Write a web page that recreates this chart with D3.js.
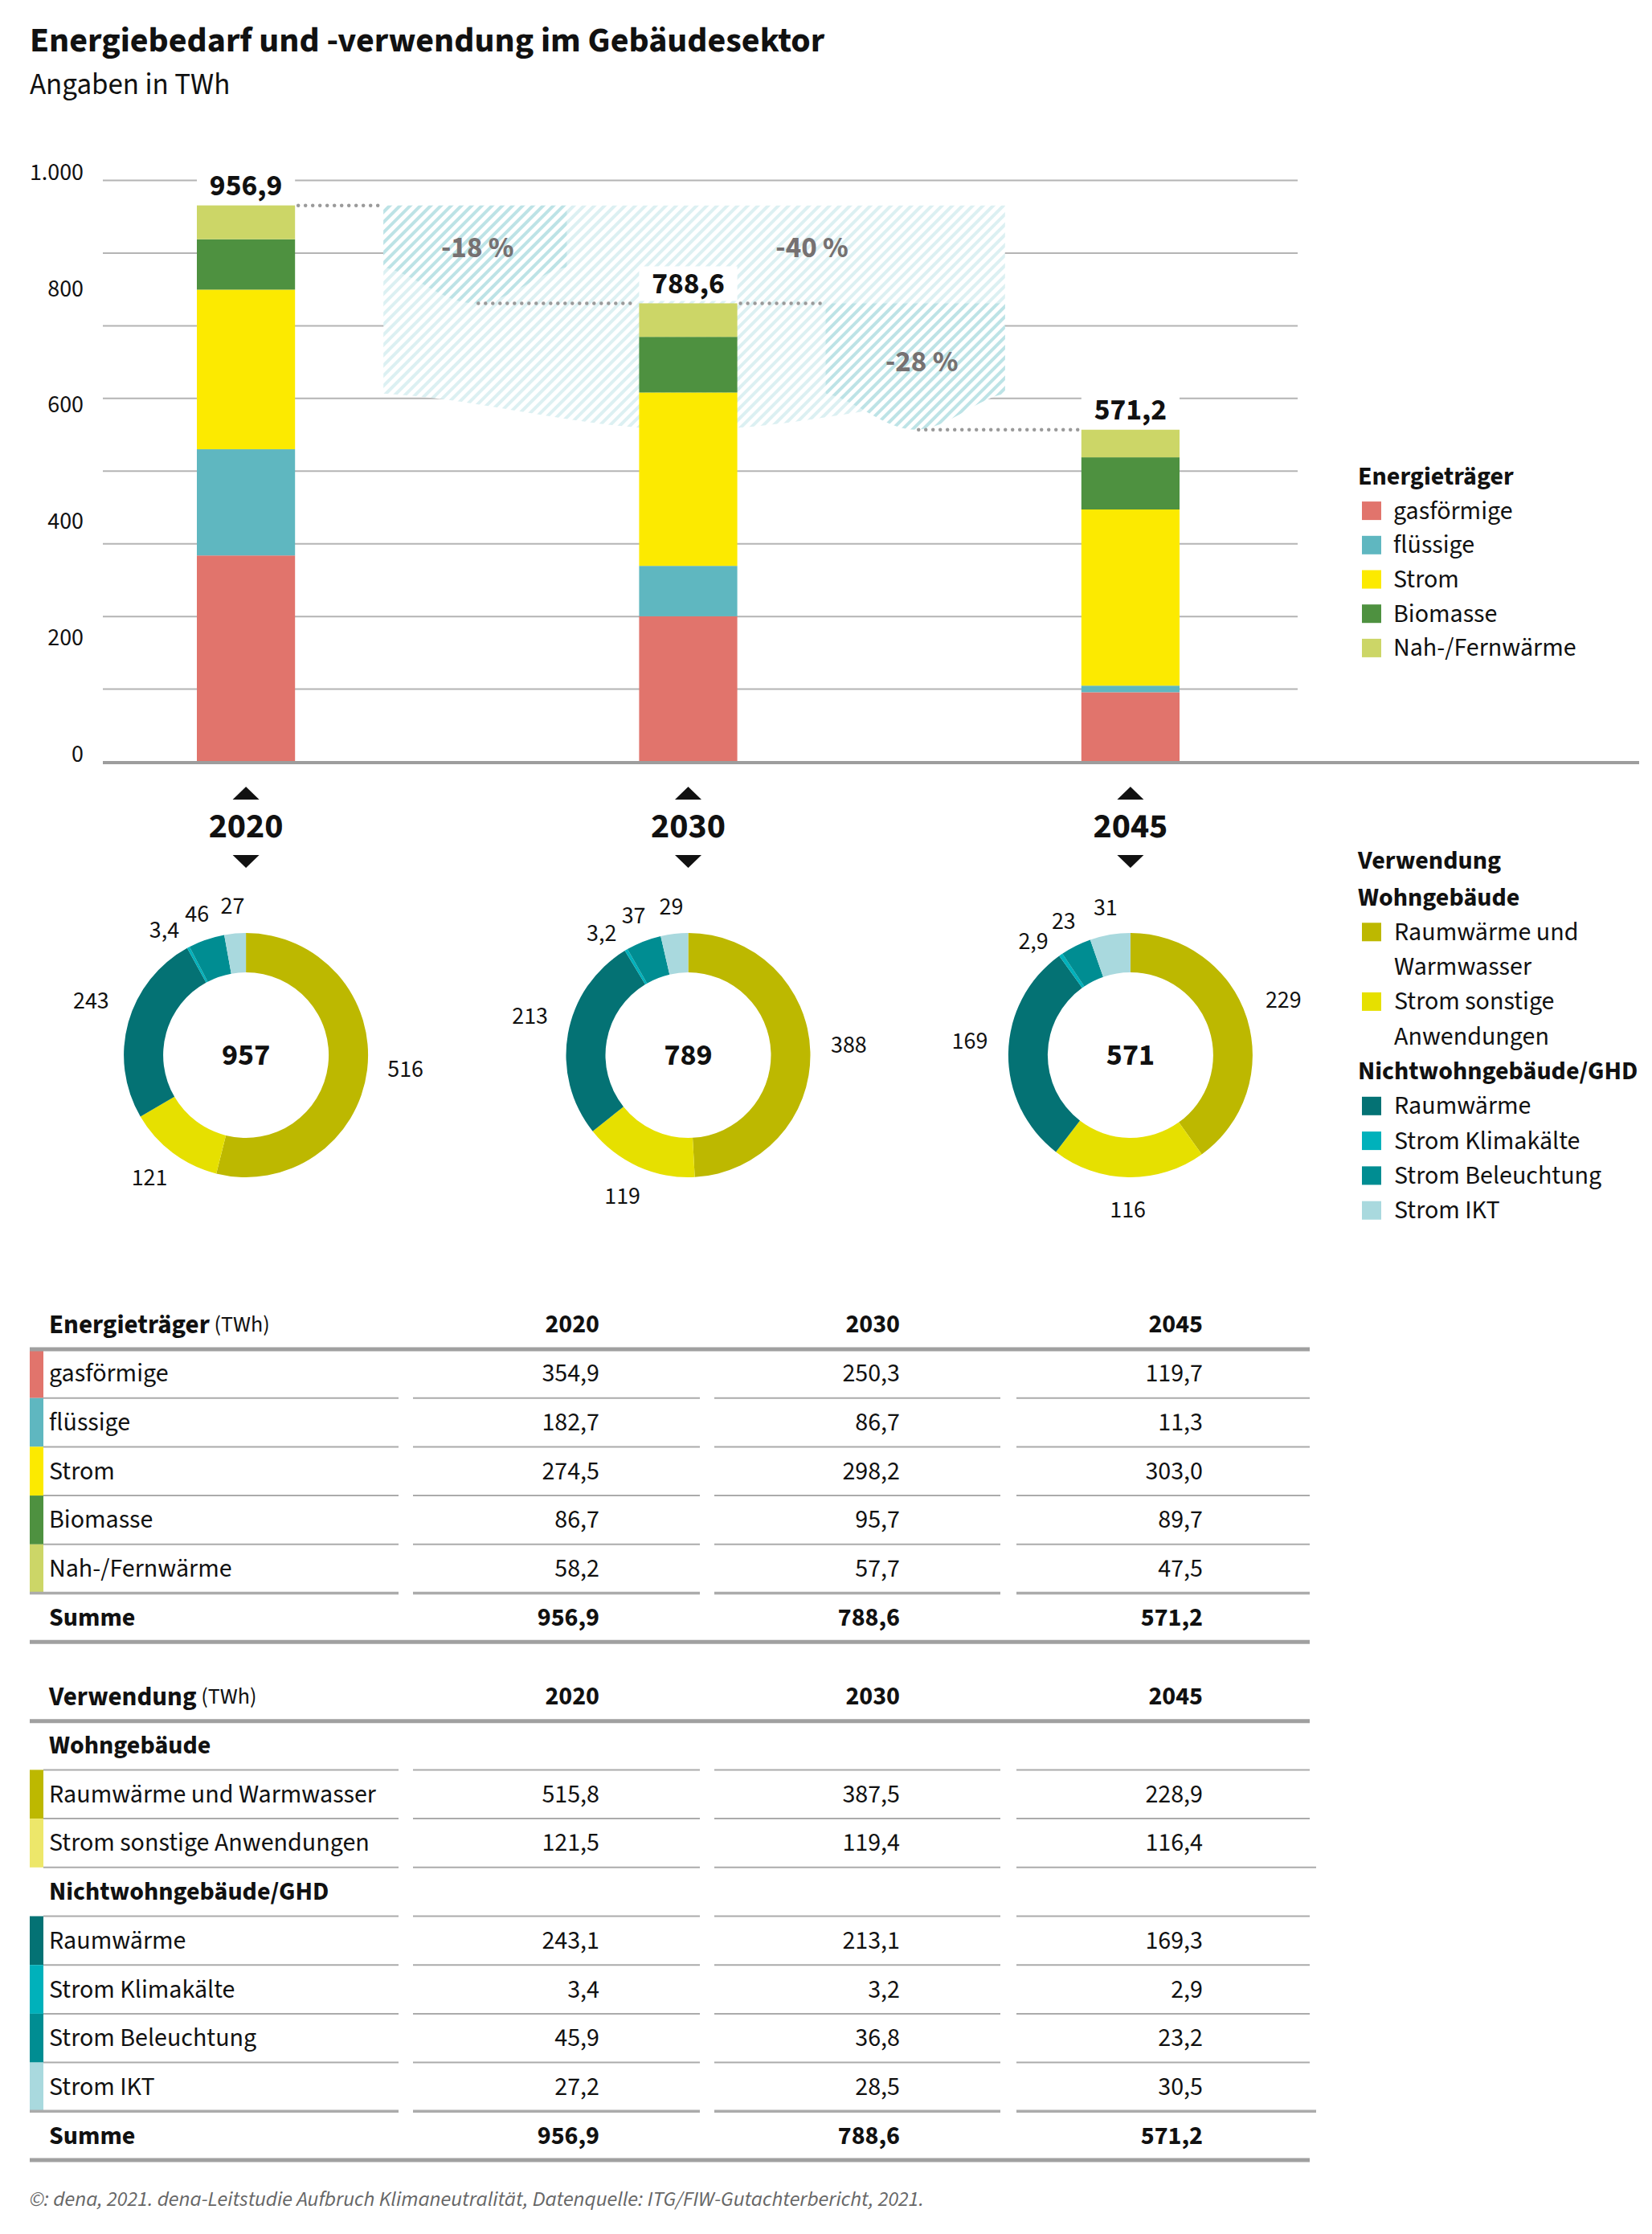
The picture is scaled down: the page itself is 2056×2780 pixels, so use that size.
<!DOCTYPE html>
<html><head><meta charset="utf-8">
<script src="https://cdn.jsdelivr.net/npm/d3@7"></script>
<style>body{margin:0;background:#fff} text{font-family:"Source Sans Pro","Source Sans 3",Lato,sans-serif;fill:#111}</style>
</head><body><svg id="c" width="2056" height="2780"></svg>
<script>
// ---------- data ----------
const years = ["2020", "2030", "2045"];
const carrierNames = ["gasförmige", "flüssige", "Strom", "Biomasse", "Nah-/Fernwärme"];
const carrierColors = ["#e1746c", "#5fb7c0", "#fcea00", "#4e9140", "#ccd667"];
const gasfoermige = [354.9, 250.3, 119.7];
const fluessige = [182.7, 86.7, 11.3];
const strom = [274.5, 298.2, 303.0];
const biomasse = [86.7, 95.7, 89.7];
const fernwaerme = [58.2, 57.7, 47.5];
const totals = [956.9, 788.6, 571.2];

const usageNames = ["Raumwärme und Warmwasser", "Strom sonstige Anwendungen", "Raumwärme", "Strom Klimakälte", "Strom Beleuchtung", "Strom IKT"];
const usageColors = ["#bdb800", "#e6e000", "#047274", "#00b1bb", "#008d92", "#a9d9de"];
const usageTableColors = ["#bdb800", "#ede76a", "#047274", "#00b1bb", "#008d92", "#a9d9de"];
const rwWW = [515.8, 387.5, 228.9];
const stromSonstige = [121.5, 119.4, 116.4];
const rwNWG = [243.1, 213.1, 169.3];
const klimakaelte = [3.4, 3.2, 2.9];
const beleuchtung = [45.9, 36.8, 23.2];
const ikt = [27.2, 28.5, 30.5];

// donut labels as printed (rounded in the source)
const donutLabels2020 = ["516", "121", "243", "3,4", "46", "27"];
const donutLabels2030 = ["388", "119", "213", "3,2", "37", "29"];
const donutLabels2045 = ["229", "116", "169", "2,9", "23", "31"];
const donutCenterLabels = ["957", "789", "571"];

const yTickValues = [0, 200, 400, 600, 800, 1000];
const gridValues = [0, 125, 250, 375, 500, 625, 750, 875, 1000];

const carrierSeries = [gasfoermige, fluessige, strom, biomasse, fernwaerme];
const usageSeries = [rwWW, stromSonstige, rwNWG, klimakaelte, beleuchtung, ikt];
const donutLabels = [donutLabels2020, donutLabels2030, donutLabels2045];

// ---------- helpers ----------
const fmt1 = v => d3.format(".1f")(v).replace(".", ",");
const fmtTick = v => d3.format(",")(v).replace(/,/g, ".");

const svg = d3.select("#c");
svg.append("rect").attr("width", 2056).attr("height", 2780).attr("fill", "#fff");

// title
svg.append("text").attr("x", 37).attr("y", 64).attr("font-size", 44).attr("font-weight", 700).text("Energiebedarf und -verwendung im Gebäudesektor");
svg.append("text").attr("x", 37).attr("y", 117).attr("font-size", 37).text("Angaben in TWh");

// ---------- scales ----------
const x = d3.scaleBand().domain(years).range([245, 1468]).paddingInner(0.778).paddingOuter(0);
const bw = x.bandwidth();
const cx = yr => x(yr) + bw / 2;
const y = d3.scaleLinear().domain([0, 1000]).range([948, 224.5]);

// patterns
const defs = svg.append("defs");
function pattern(id, color) {
  const p = defs.append("pattern").attr("id", id).attr("patternUnits", "userSpaceOnUse")
    .attr("width", 9).attr("height", 9).attr("patternTransform", "rotate(45)");
  p.append("rect").attr("width", 9).attr("height", 9).attr("fill", "#fff");
  p.append("rect").attr("width", 4).attr("height", 9).attr("fill", color);
}
pattern("hatchLight", "#dcf0f2");
pattern("hatchDark", "#bde3e6");

// gridlines
svg.append("g").selectAll("line").data(gridValues.filter(v => v > 0)).join("line")
  .attr("x1", 128).attr("x2", 1615).attr("y1", d => y(d)).attr("y2", d => y(d))
  .attr("stroke", "#b4b4b4").attr("stroke-width", 2);

// y axis labels
svg.append("g").selectAll("text").data(yTickValues).join("text")
  .attr("x", 104).attr("y", d => y(d) - 10).attr("text-anchor", "end")
  .attr("dominant-baseline", "central").attr("font-size", 30).text(fmtTick);

// ---------- reduction arrows ----------
const pct = (a, b) => Math.round((b / a - 1) * 100) + " %";
function arrowPath(x0, x1, top, tipX, tipY) {
  const side = tipY - 45;
  return `M${x0},${top}L${x1},${top}L${x1},${side}` +
    `C${x1 - (x1 - tipX) * 0.35},${side + 8} ${tipX + (x1 - tipX) * 0.35},${tipY} ${tipX},${tipY}` +
    `C${tipX - (tipX - x0) * 0.35},${tipY} ${x0 + (tipX - x0) * 0.35},${side + 8} ${x0},${side}Z`;
}
const gapL = 110, gapR = 95;
const aX0 = x("2020") + bw + gapL, aX1 = x("2030") - gapR + 5;
const cX0 = x("2030") + bw + gapL, cX1 = x("2045") - gapR;
const arrows = [
  { x0: aX0, x1: cX1, top: y(totals[0]), tipX: cx("2030"), tipY: y(totals[2]), fill: "url(#hatchLight)" },
  { x0: aX0, x1: aX1, top: y(totals[0]), tipX: (aX0 + aX1) / 2, tipY: y(totals[1]), fill: "url(#hatchDark)" },
  { x0: cX0, x1: cX1, top: y(totals[1]), tipX: (cX0 + cX1) / 2, tipY: y(totals[2]), fill: "url(#hatchDark)" }
];
svg.append("g").selectAll("path").data(arrows).join("path")
  .attr("d", d => arrowPath(d.x0, d.x1, d.top, d.tipX, d.tipY)).attr("fill", d => d.fill);

// dotted connectors
const dots = [
  [x("2020") + bw, aX0, totals[0]],
  [arrows[1].tipX, x("2030"), totals[1]],
  [x("2030") + bw, cX0, totals[1]],
  [arrows[2].tipX, x("2045"), totals[2]]
];
svg.append("g").selectAll("line").data(dots).join("line")
  .attr("x1", d => d[0] + 4).attr("x2", d => d[1] - 4).attr("y1", d => y(d[2])).attr("y2", d => y(d[2]))
  .attr("stroke", "#9a9a9a").attr("stroke-width", 4.5).attr("stroke-linecap", "round").attr("stroke-dasharray", "0 9");

// percent labels
const pctLabels = [
  { t: pct(totals[0], totals[1]), x: (aX0 + aX1) / 2 + 3, y: y(totals[0]) + 53 },
  { t: pct(totals[0], totals[2]), x: x("2030") + bw + 93, y: y(totals[0]) + 53 },
  { t: pct(totals[1], totals[2]), x: (cX0 + cX1) / 2 + 8, y: y(totals[1]) + 73 }
];
svg.append("g").selectAll("text").data(pctLabels).join("text")
  .attr("x", d => d.x).attr("y", d => d.y).attr("text-anchor", "middle").attr("dominant-baseline", "central")
  .attr("font-size", 37).attr("font-weight", 700).style("fill", "#767171").text(d => d.t);

// ---------- stacked bars ----------
const table = years.map((yr, i) => { const o = { year: yr }; carrierNames.forEach((k, j) => o[k] = carrierSeries[j][i]); return o; });
const stack = d3.stack().keys(carrierNames)(table);
svg.append("g").selectAll("g").data(stack).join("g").attr("fill", (d, i) => carrierColors[i])
  .selectAll("rect").data(d => d).join("rect")
  .attr("x", d => x(d.data.year)).attr("width", bw)
  .attr("y", d => y(d[1])).attr("height", d => y(d[0]) - y(d[1]));

// total labels
const tl = svg.append("g").selectAll("g").data(years).join("g");
tl.append("rect").attr("x", d => x(d)).attr("width", bw).attr("y", (d, i) => y(totals[i]) - 46).attr("height", 43).attr("fill", "#fff");
tl.append("text").attr("x", d => cx(d)).attr("y", (d, i) => y(totals[i]) - 24).attr("text-anchor", "middle")
  .attr("dominant-baseline", "central").attr("font-size", 37.5).attr("font-weight", 700).text((d, i) => fmt1(totals[i]));

// baseline
svg.append("line").attr("x1", 128).attr("x2", 2040).attr("y1", y(0) + 1).attr("y2", y(0) + 1).attr("stroke", "#9d9d9d").attr("stroke-width", 4);

// years with triangles
const yl = svg.append("g").selectAll("g").data(years).join("g");
yl.append("path").attr("d", d => `M${cx(d)},979L${cx(d) + 16.5},995L${cx(d) - 16.5},995Z`).attr("fill", "#111");
yl.append("path").attr("d", d => `M${cx(d) - 16.5},1064L${cx(d) + 16.5},1064L${cx(d)},1080Z`).attr("fill", "#111");
yl.append("text").attr("x", d => cx(d)).attr("y", 1028).attr("text-anchor", "middle").attr("dominant-baseline", "central")
  .attr("font-size", 44).attr("font-weight", 700).text(d => d);

// ---------- donuts ----------
const cyD = 1313;
const pie = d3.pie().sort(null).value(d => d);
const arc = d3.arc().innerRadius(103).outerRadius(152);
years.forEach((yr, i) => {
  const vals = usageSeries.map(s => s[i]);
  const arcs = pie(vals);
  const g = svg.append("g").attr("transform", `translate(${cx(yr)},${cyD})`);
  g.selectAll("path").data(arcs).join("path").attr("d", arc).attr("fill", (d, j) => usageColors[j]);
  const ang = arcs.map(a => (a.startAngle + a.endAngle) / 2);
  const sep = 14 * Math.PI / 180;
  ang[4] = Math.min(ang[4], ang[5] - sep);
  ang[3] = Math.min(ang[3], ang[4] - sep);
  g.selectAll("text.l").data(arcs).join("text").attr("class", "l")
    .attr("x", (d, j) => (j >= 3 ? 186 : 200) * Math.sin(ang[j]))
    .attr("y", (d, j) => -(j >= 3 ? 186 : 200) * Math.cos(ang[j]) + (j >= 3 ? 0 : (j === 2 ? -14 : -7)))
    .attr("text-anchor", "middle").attr("dominant-baseline", "central").attr("font-size", 30)
    .text((d, j) => donutLabels[i][j]);
  g.append("text").attr("text-anchor", "middle").attr("dominant-baseline", "central").attr("font-size", 38)
    .attr("font-weight", 700).text(donutCenterLabels[i]);
});

// ---------- legends ----------
const LX = 1690, SX = 1695, TX = 1734, LFS = 32;
const lg1 = svg.append("g");
lg1.append("text").attr("x", LX).attr("y", 593).attr("dominant-baseline", "central").attr("font-size", LFS).attr("font-weight", 700).text("Energieträger");
carrierNames.forEach((n, i) => {
  const yy = 635.6 + 42.7 * i;
  lg1.append("rect").attr("x", SX).attr("y", yy - 11.5).attr("width", 24).attr("height", 23).attr("fill", carrierColors[i]);
  lg1.append("text").attr("x", TX).attr("y", yy).attr("dominant-baseline", "central").attr("font-size", LFS).text(n);
});

const legend2 = [
  { t: "Wohngebäude", bold: true },
  { t: "Raumwärme und", c: 0 }, { t: "Warmwasser" },
  { t: "Strom sonstige", c: 1 }, { t: "Anwendungen" },
  { t: "Nichtwohngebäude/GHD", bold: true },
  { t: "Raumwärme", c: 2 }, { t: "Strom Klimakälte", c: 3 }, { t: "Strom Beleuchtung", c: 4 }, { t: "Strom IKT", c: 5 }
];
const lg2 = svg.append("g");
lg2.append("text").attr("x", LX).attr("y", 1071).attr("dominant-baseline", "central").attr("font-size", LFS).attr("font-weight", 700).text("Verwendung");
legend2.forEach((e, k) => {
  const yy = 1116.5 + 43.3 * k;
  if (e.bold) {
    lg2.append("text").attr("x", LX).attr("y", yy).attr("dominant-baseline", "central").attr("font-size", LFS).attr("font-weight", 700).text(e.t);
  } else {
    if (e.c !== undefined) lg2.append("rect").attr("x", SX).attr("y", yy - 11.5).attr("width", 24).attr("height", 23).attr("fill", usageColors[e.c]);
    lg2.append("text").attr("x", TX + 1).attr("y", yy).attr("dominant-baseline", "central").attr("font-size", LFS).text(e.t);
  }
});

// ---------- tables ----------
const colX = [746, 1120, 1497];
const segs = [[54, 496], [514, 871], [889, 1245], [1265, 1630]];
const rowH = 60.7;
const FS = 32;

function header(g, yC, bold, light) {
  const t = g.append("text").attr("x", 61).attr("y", yC).attr("dominant-baseline", "central").attr("font-size", 33);
  t.append("tspan").attr("font-weight", 700).text(bold);
  t.append("tspan").attr("font-size", 28).text(light);
  g.selectAll(null).data(years).join("text").attr("x", (d, i) => colX[i]).attr("y", yC).attr("text-anchor", "end")
    .attr("dominant-baseline", "central").attr("font-size", FS).attr("font-weight", 700).text(d => d);
}
function thick(g, yy) {
  g.append("line").attr("x1", 37).attr("x2", 1630).attr("y1", yy).attr("y2", yy).attr("stroke", "#a0a0a0").attr("stroke-width", 5);
}
function rowLine(g, yy, startX, w, endX) {
  segs.forEach((s, i) => {
    const a = i === 0 ? startX : s[0];
    const b = i === 3 ? (endX || s[1]) : s[1];
    g.append("line").attr("x1", a).attr("x2", b).attr("y1", yy).attr("y2", yy).attr("stroke", "#ababab").attr("stroke-width", w);
  });
}
function dataRow(g, yTop, label, vals, color, bold) {
  const yC = yTop + rowH / 2;
  if (color) g.append("rect").attr("x", 37).attr("y", yTop).attr("width", 17).attr("height", rowH).attr("fill", color);
  g.append("text").attr("x", 61).attr("y", yC).attr("dominant-baseline", "central").attr("font-size", FS)
    .attr("font-weight", bold ? 700 : 400).text(label);
  if (vals) g.selectAll(null).data(vals).join("text").attr("x", (d, i) => colX[i]).attr("y", yC).attr("text-anchor", "end")
    .attr("dominant-baseline", "central").attr("font-size", FS).attr("font-weight", bold ? 700 : 400).text(fmt1);
}

// table 1
const t1 = svg.append("g");
header(t1, 1648, "Energieträger", " (TWh)");
const top1 = 1679;
carrierNames.forEach((n, i) => {
  dataRow(t1, top1 + rowH * i, n, carrierSeries[i], carrierColors[i]);
  if (i < 4) rowLine(t1, top1 + rowH * (i + 1), 54, 2);
});
rowLine(t1, top1 + rowH * 5, 37, 3.5);
dataRow(t1, top1 + rowH * 5, "Summe", totals, null, true);
thick(t1, top1);
thick(t1, top1 + rowH * 6);

// table 2
const t2 = svg.append("g");
header(t2, 2110.5, "Verwendung", " (TWh)");
const top2 = 2141.7;
const rows2 = [
  { t: "Wohngebäude", group: true },
  { t: usageNames[0], k: 0 }, { t: usageNames[1], k: 1 },
  { t: "Nichtwohngebäude/GHD", group: true },
  { t: usageNames[2], k: 2 }, { t: usageNames[3], k: 3 }, { t: usageNames[4], k: 4 }, { t: usageNames[5], k: 5 }
];
rows2.forEach((r, i) => {
  const yt = top2 + rowH * i;
  if (r.group) dataRow(t2, yt, r.t, null, null, true);
  else dataRow(t2, yt, r.t, usageSeries[r.k], usageTableColors[r.k]);
  if (i < rows2.length - 1) rowLine(t2, yt + rowH, 54, 2, r.k === 1 ? 1638 : null);
});
rowLine(t2, top2 + rowH * 8, 37, 3.5, 1638);
dataRow(t2, top2 + rowH * 8, "Summe", totals, null, true);
thick(t2, top2);
thick(t2, top2 + rowH * 9);

// footer
svg.append("text").attr("x", 37).attr("y", 2737).attr("dominant-baseline", "central").attr("font-size", 26.5)
  .attr("font-style", "italic").style("fill", "#666")
  .text("©: dena, 2021. dena-Leitstudie Aufbruch Klimaneutralität, Datenquelle: ITG/FIW-Gutachterbericht, 2021.");
</script></body></html>
